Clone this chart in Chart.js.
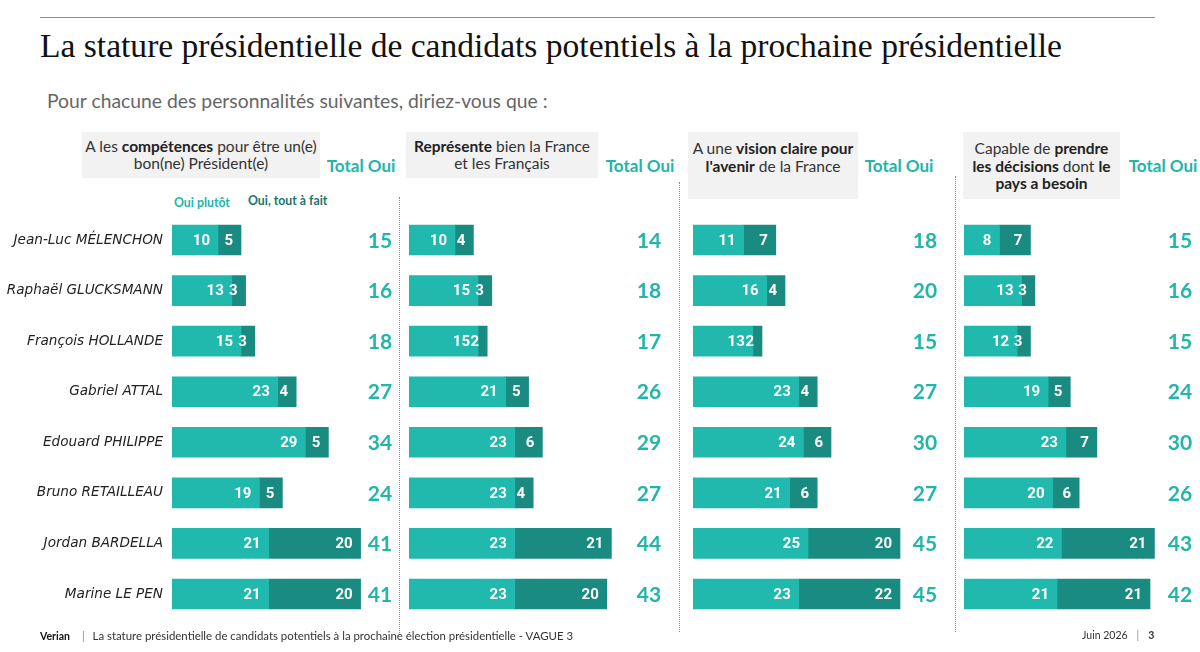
<!DOCTYPE html>
<html><head><meta charset="utf-8">
<script src="https://cdn.jsdelivr.net/npm/chart.js@4.4.1/dist/chart.umd.min.js"></script>
<style>
body{margin:0;width:1200px;height:652px;position:relative;background:#fff;overflow:hidden;font-family:Lato,"Noto Sans",sans-serif;color:#333}
.abs{position:absolute;white-space:nowrap}
#topline{left:40px;top:17px;width:1115px;height:0;border-top:1.5px solid #8c8c8c}
#title{left:40px;top:26px;font-family:"Liberation Serif",serif;font-size:32px;color:#111;line-height:40px}
#sub{left:47px;top:89px;font-size:18px;color:#666;line-height:24px}
.box{position:absolute;box-sizing:border-box;background:#f2f2f2;display:flex;align-items:center;justify-content:center;text-align:center;font-size:15.5px;line-height:17.5px;color:#333}
.box.top{align-items:flex-start;padding-top:8px}
.box b{font-weight:700;color:#222}
.tot{position:absolute;top:155px;font-weight:700;font-size:17px;color:#22b5aa;transform:translateX(-50%);white-space:nowrap}
.sep{position:absolute;width:0;border-left:1.5px dotted #8a8a8a}
canvas{position:absolute;top:205px}
.leg{position:absolute;font-size:12.3px;font-weight:700;white-space:nowrap}
#foot{left:40px;top:629px;font-size:10.5px;color:#333}
</style></head><body>
<div id="topline" class="abs"></div>
<div id="title" class="abs" data-w="1022">La stature présidentielle de candidats potentiels à la prochaine présidentielle</div>
<div id="sub" class="abs" data-w="501">Pour chacune des personnalités suivantes, diriez-vous que :</div>

<div class="box" style="left:82px;top:132px;width:238px;height:46px"><span>A les <b>compétences</b> pour être un(e)<br>bon(ne) Président(e)</span></div>
<div class="box" style="left:406px;top:132px;width:192px;height:46px"><span><b>Représente</b> bien la France<br>et les Français</span></div>
<div class="box top" style="left:688px;top:132px;width:170px;height:67px"><span>A une <b>vision claire pour</b><br><b>l'avenir</b> de la France</span></div>
<div class="box top" style="left:963px;top:132px;width:157px;height:67px"><span>Capable de <b>prendre</b><br><b>les décisions</b> dont <b>le</b><br><b>pays a besoin</b></span></div>

<div class="tot" style="left:361px">Total Oui</div>
<div class="tot" style="left:640px">Total Oui</div>
<div class="tot" style="left:899px">Total Oui</div>
<div class="tot" style="left:1163px">Total Oui</div>

<div class="leg" style="left:174px;top:195px;color:#22b5aa">Oui plutôt</div>
<div class="leg" style="left:248px;top:193px;color:#19756d">Oui, tout à fait</div>

<div class="sep" style="left:399px;top:197px;height:436px"></div>
<div class="sep" style="left:679px;top:182px;height:450px"></div>
<div class="sep" style="left:955px;top:176px;height:456px"></div>

<canvas id="c1" width="400" height="425" style="left:0px"></canvas>
<canvas id="c2" width="279" height="425" style="left:400px"></canvas>
<canvas id="c3" width="275" height="425" style="left:680px"></canvas>
<canvas id="c4" width="244" height="425" style="left:956px"></canvas>

<div id="foot" class="abs"><b style="color:#111">Verian</b><span style="color:#888;margin:0 8px 0 12px">|</span><span data-w="481" id="foottxt">La stature présidentielle de candidats potentiels à la prochaine élection présidentielle - VAGUE 3</span></div>
<div class="abs" style="left:1082px;top:629px;font-size:10.5px;color:#333">Juin 2026<span style="color:#888;margin:0 9px">|</span><b>3</b></div>

<script>
// ---- data ----
const names = ["Jean-Luc MÉLENCHON","Raphaël GLUCKSMANN","François HOLLANDE","Gabriel ATTAL","Edouard PHILIPPE","Bruno RETAILLEAU","Jordan BARDELLA","Marine LE PEN"];
const competencesPlutot = [10,13,15,23,29,19,21,21];
const competencesTout   = [5,3,3,4,5,5,20,20];
const competencesTotal  = [15,16,18,27,34,24,41,41];
const representePlutot  = [10,15,15,21,23,23,23,23];
const representeTout    = [4,3,2,5,6,4,21,20];
const representeTotal   = [14,18,17,26,29,27,44,43];
const visionPlutot      = [11,16,13,23,24,21,25,23];
const visionTout        = [7,4,2,4,6,6,20,22];
const visionTotal       = [18,20,15,27,30,27,45,45];
const decisionsPlutot   = [8,13,12,19,23,20,22,21];
const decisionsTout     = [7,3,3,5,7,6,21,21];
const decisionsTotal    = [15,16,15,24,30,26,43,42];

const LIGHT = '#21b8ad', DARK = '#1a8b81', TOTC = '#22b5aa';

// fit text widths
document.querySelectorAll('[data-w]').forEach(el=>{
  const target = +el.dataset.w;
  const fs = parseFloat(getComputedStyle(el).fontSize);
  const w = el.getBoundingClientRect().width;
  if (w>0) el.style.fontSize = (fs*target/w)+'px';
});

function labelPlugin(totals, totalX){
  return {id:'lbl', afterDatasetsDraw(chart){
    const ctx = chart.ctx; ctx.save();
    ctx.font = '700 15px Roboto'; ctx.fillStyle = '#fff';
    ctx.textAlign = 'right'; ctx.textBaseline = 'middle';
    chart.data.datasets.forEach((ds,i)=>{
      chart.getDatasetMeta(i).data.forEach((bar,j)=>{
        ctx.fillText(String(ds.data[j]), bar.x - 8, bar.y + 1);
      });
    });
    ctx.font = '700 21px Lato'; ctx.fillStyle = TOTC; ctx.textAlign = 'center';
    const ys = chart.scales.y;
    totals.forEach((t,j)=>ctx.fillText(String(t), totalX, ys.getPixelForValue(j) + 1));
    ctx.restore();
  }};
}

function makeChart(id, plut, tout, totals, cfg){
  const yScale = {stacked: true, display: cfg.showNames,
    grid: {display: false, drawTicks: false}, border: {display: false},
    ticks: {padding: 9, color: '#222', font: {family: "'DejaVu Sans'", style: 'oblique', size: 13.6}}};
  if (cfg.axisW) yScale.afterFit = s => { s.width = cfg.axisW; s.paddingTop = 0; s.paddingBottom = 0; };
  new Chart(document.getElementById(id), {
    type: 'bar',
    data: {labels: names, datasets: [
      {label:'Oui plutôt', data: plut, backgroundColor: LIGHT, barThickness: 30},
      {label:'Oui, tout à fait', data: tout, backgroundColor: DARK, barThickness: 30}
    ]},
    options: {
      indexAxis: 'y', responsive: false, animation: false, devicePixelRatio: 1,
      layout: {padding: {left: cfg.padL, right: cfg.padR, top: 9.7, bottom: 10.7}},
      plugins: {legend: {display: false}, tooltip: {enabled: false}},
      scales: {
        x: {stacked: true, min: 0, max: 48, display: false},
        y: yScale
      }
    },
    plugins: [labelPlugin(totals, cfg.totalX)]
  });
}

makeChart('c1', competencesPlutot, competencesTout, competencesTotal, {showNames:true, axisW:172, padL:0, padR:400-172-220.8, totalX:380});
makeChart('c2', representePlutot, representeTout, representeTotal, {showNames:false, padL:9, padR:279-9-220.8, totalX:249});
makeChart('c3', visionPlutot, visionTout, visionTotal, {showNames:false, padL:13, padR:275-13-220.8, totalX:245});
makeChart('c4', decisionsPlutot, decisionsTout, decisionsTotal, {showNames:false, padL:8, padR:244-8-212.6, totalX:224});
</script>
</body></html>
